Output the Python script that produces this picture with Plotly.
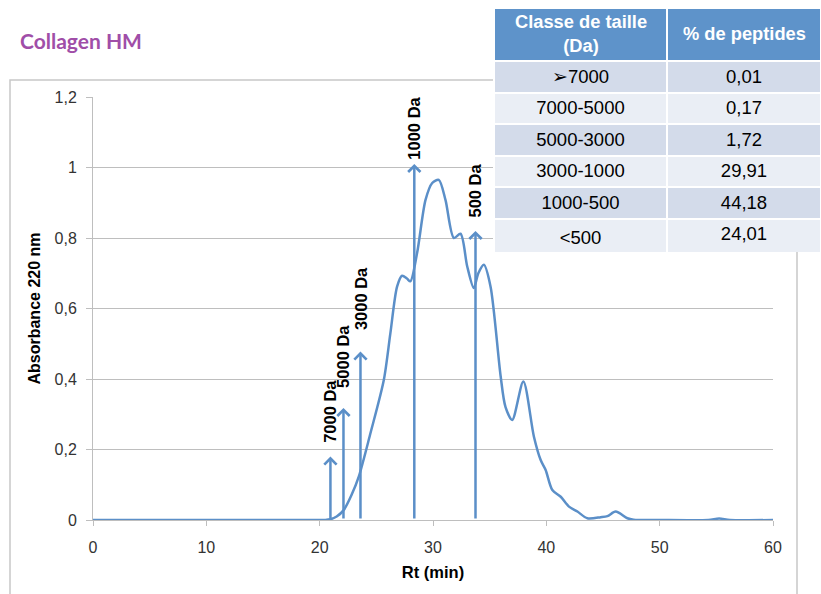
import plotly.graph_objects as go

# ---- data ----
rt_min = [0, 10, 20, 20.5, 20.94, 21.5, 22.12, 22.8, 23.45, 24.48, 25.66, 26.24, 26.83, 27.27,
          27.7, 28.0, 28.6, 29.34, 29.93, 30.51, 31.1, 31.84, 32.43, 33.02, 33.6, 34.0, 34.49,
          35.08, 35.96, 36.4, 36.99, 37.97, 38.9, 39.5, 39.94, 40.53, 41.27, 42.0, 42.74, 43.62,
          44.8, 45.39, 46.12, 47.15, 47.7, 50, 54.3, 55.25, 56.2, 60]
absorbance = [0, 0, 0, 0, 0.002, 0.01, 0.028, 0.07, 0.123, 0.246, 0.397, 0.53, 0.662, 0.693,
              0.685, 0.677, 0.758, 0.908, 0.956, 0.965, 0.908, 0.80, 0.812, 0.719, 0.658, 0.70, 0.724,
              0.662, 0.41, 0.32, 0.284, 0.393, 0.237, 0.17, 0.142, 0.085, 0.066, 0.038, 0.024, 0.005,
              0.008, 0.011, 0.024, 0.005, 0.001, 0, 0, 0.004, 0, 0]

marker_labels = ["7000 Da", "5000 Da", "3000 Da", "1000 Da", "500 Da"]
marker_rt = [20.95, 22.1, 23.6, 28.35, 33.75]
marker_tip = [0.18, 0.318, 0.478, 1.01, 0.82]
marker_label_base = [0.213, 0.369, 0.533, 1.016, 0.851]

table_headers = ["Classe de taille<br>(Da)", "% de peptides"]
size_classes = ["➢7000", "7000-5000", "5000-3000", "3000-1000", "1000-500", "<500"]
pct_peptides = ["0,01", "0,17", "1,72", "29,91", "44,18", "24,01"]

x_ticks = [0, 10, 20, 30, 40, 50, 60]
y_ticks = [0, 0.2, 0.4, 0.6, 0.8, 1.0, 1.2]
y_ticktext = ["0", "0,2", "0,4", "0,6", "0,8", "1", "1,2"]

# ---- figure ----
W, H = 821, 594
BLUE = "#5B8FC8"
GRID = "#BEBEBE"
FONT = "Liberation Sans, Arial"

fig = go.Figure()
fig.add_trace(go.Scatter(x=rt_min, y=absorbance, mode="lines",
                         line=dict(color=BLUE, width=2.5, shape="spline", smoothing=0.8),
                         hoverinfo="x+y", showlegend=False))

# table: x 494..821 px, y 8..252 px
TX0, TX1, TY0, TY1 = 494, 821, 8, 252
COLW = [173, 154]
row_fill = ["#D3DBEA" if i % 2 == 0 else "#EAEEF5" for i in range(len(size_classes))]
fig.add_trace(go.Table(
    domain=dict(x=[TX0 / W, TX1 / W], y=[1 - TY1 / H, 1 - TY0 / H]),
    columnwidth=COLW,
    header=dict(values=["", ""], fill_color="#5E93CA", line=dict(color="white", width=2),
                font=dict(color="white", size=18, family=FONT), align="center", height=53),
    cells=dict(values=[size_classes, pct_peptides],
               fill_color=[row_fill, row_fill], line=dict(color="white", width=2),
               font=dict(color="black", size=18.5, family=FONT),
               align="center", height=31.5),
))

annotations = []
# table header texts (centered multi-line)
cx = [TX0 + COLW[0] / 2, TX0 + COLW[0] + COLW[1] / 2]
for txt, x in zip(table_headers, cx):
    annotations.append(dict(x=x / W, y=1 - 34 / H, xref="paper", yref="paper",
                            text="<b>%s</b>" % txt, showarrow=False, align="center",
                            xanchor="center", yanchor="middle",
                            font=dict(size=18.3, color="white", family=FONT)))

for lab, t, tip, lb in zip(marker_labels, marker_rt, marker_tip, marker_label_base):
    annotations.append(dict(x=t, y=tip, ax=t, ay=0, xref="x", yref="y", axref="x", ayref="y",
                            text="", showarrow=True, arrowhead=4, arrowsize=0.95,
                            arrowwidth=2.5, arrowcolor=BLUE))
    annotations.append(dict(x=t, y=lb, xref="x", yref="y", text="<b>%s</b>" % lab,
                            textangle=-90, showarrow=False, yanchor="bottom", xanchor="center",
                            font=dict(size=16.5, color="black", family=FONT)))

annotations.append(dict(x=18 / W, y=1 - 40 / H, xref="paper", yref="paper",
                        text="<b>Collagen HM</b>", showarrow=False, xanchor="left", yanchor="middle",
                        font=dict(size=21, color="#A04EA8", family="Lato, Open Sans")))

fig.update_layout(
    width=W, height=H,
    margin=dict(l=0, r=0, t=0, b=0, autoexpand=False),
    paper_bgcolor="white", plot_bgcolor="white",
    separators=", ",
    font=dict(family=FONT, color="#333333"),
    annotations=annotations,
    shapes=[dict(type="rect", xref="paper", yref="paper", x0=10 / W, x1=797 / W,
                 y0=-0.05, y1=1 - 80 / H, line=dict(color="#C8C8C8", width=1.5), layer="below")],
    xaxis=dict(domain=[93 / W, 773 / W], range=[0, 60], tickvals=x_ticks,
               showgrid=False, zeroline=False, showline=True, linecolor=GRID, linewidth=1,
               ticks="outside", ticklen=5, tickcolor=GRID, ticklabelstandoff=8,
               tickfont=dict(size=16, color="#333333"), automargin=False,
               title=dict(text="<b>Rt (min)</b>", font=dict(size=16.5, color="black"), standoff=11)),
    yaxis=dict(domain=[74 / H, 497 / H], range=[0, 1.2], tickvals=y_ticks, ticktext=y_ticktext,
               showgrid=True, gridcolor=GRID, gridwidth=1, zeroline=False,
               showline=True, linecolor=GRID, linewidth=1,
               ticks="outside", ticklen=6, tickcolor=GRID, ticklabelstandoff=6,
               tickfont=dict(size=16, color="#333333"), automargin=False,
               title=dict(text="<b>Absorbance 220 nm</b>", font=dict(size=16, color="black"), standoff=9)),
)

fig.write_html("out.html", config={"displayModeBar": False},
               post_script="document.body.style.margin='0';document.body.style.overflow='hidden';")
